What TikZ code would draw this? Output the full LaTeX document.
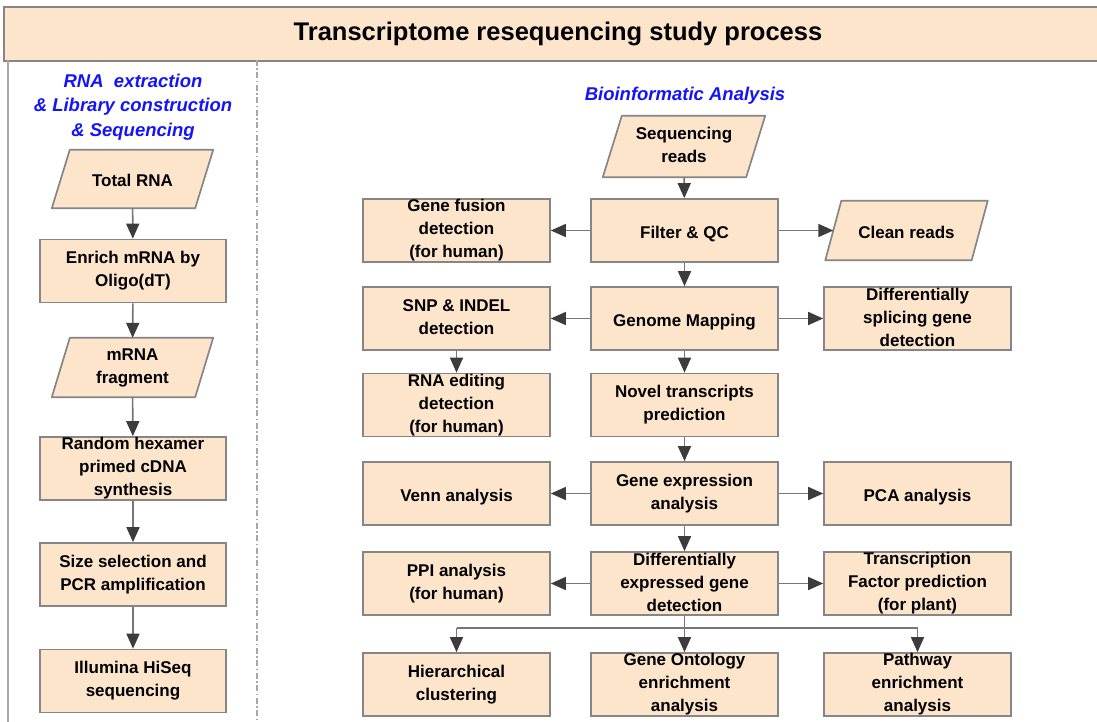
\documentclass[tikz,border=0pt]{standalone}
\usepackage{fontspec}
\setmainfont{Liberation Sans}
\usetikzlibrary{arrows.meta}
\definecolor{peach}{HTML}{FDE5CC}
\definecolor{bordergray}{HTML}{868686}
\definecolor{arrowgray}{HTML}{767676}
\definecolor{headgray}{HTML}{3C3C3C}
\definecolor{titleblue}{HTML}{1414FA}
\definecolor{sepgray}{HTML}{A8A8A8}
\begin{document}
\begin{tikzpicture}[x=1pt,y=-1pt,
  boxtxt/.style={inner sep=0pt, align=center, text=black,
     font=\fontsize{17}{23}\selectfont\bfseries,
     execute at begin node={\rule{0pt}{19pt}},
     execute at end node={\rule[-3pt]{0pt}{3pt}}},
  box/.style={boxtxt, draw=bordergray, fill=peach, line width=1.7pt,
     minimum width=187pt, minimum height=63pt},
  lbox/.style={box, minimum width=186pt},
  paratxt/.style={boxtxt, minimum height=#1},
  parafill/.style={draw=bordergray, fill=peach, line width=1.7pt, line join=round},
  arr/.style={draw=arrowgray, line width=1.6pt,
     -{Triangle[length=15pt,width=13pt,color=headgray]}},
  plainln/.style={draw=arrowgray, line width=1.6pt},
  bluetitle/.style={text=titleblue, align=center,
     font=\fontsize{18.5}{24.5}\selectfont\bfseries\itshape}
]
\useasboundingbox (0,0) rectangle (1097,722);
\fill[white] (0,0) rectangle (1097,722);

% header
\node[draw=bordergray, fill=peach, line width=1.8pt, minimum width=1100pt,
      minimum height=54pt, inner sep=0pt, anchor=north west] (header) at (3,6) {};
\node[inner sep=0pt, font=\fontsize{25.5}{30}\selectfont\bfseries] (htitle) at (558,34)
      {Transcriptome resequencing study process};
\coordinate (lsTop) at (8,60);
\coordinate (lsBot) at (8,722);
\draw[sepgray, line width=1.8pt] (lsTop) -- (lsBot);
\coordinate (dsTop) at (257,60);
\coordinate (dsBot) at (257,722);
\draw[sepgray, line width=2pt, dash pattern=on 6pt off 2.5pt on 1.5pt off 2.5pt] (dsTop) -- (dsBot);

% section titles
\node[bluetitle] (ltitle) at (133,107) {RNA\ \ extraction\\\& Library construction\\\& Sequencing};
\node[bluetitle] (rtitle) at (685,96) {Bioinformatic Analysis};

% ---------- left column ----------
\node[paratxt=58pt, minimum width=143pt] (totalrna) at (132.5,179) {};
\draw[parafill] ([xshift=9pt]totalrna.north west) -- ([xshift=9pt]totalrna.north east)
   -- ([xshift=-9pt]totalrna.south east) -- ([xshift=-9pt]totalrna.south west) -- cycle;
\node[boxtxt] at (totalrna) {Total RNA};

\node[lbox] (enrich) at (133,271) {Enrich mRNA by\\Oligo(dT)};

\node[paratxt=59pt, minimum width=143pt] (frag) at (132.5,367.5) {};
\draw[parafill] ([xshift=9pt]frag.north west) -- ([xshift=9pt]frag.north east)
   -- ([xshift=-9pt]frag.south east) -- ([xshift=-9pt]frag.south west) -- cycle;
\node[boxtxt] at (frag) {mRNA\\fragment};

\node[lbox] (hexamer) at (133,468.5) {Random hexamer\\primed cDNA\\synthesis};
\node[lbox] (sizesel) at (133,574.5) {Size selection and\\PCR amplification};
\node[lbox] (illumina) at (133,681) {Illumina HiSeq\\sequencing};

\draw[arr] (totalrna) -- (enrich);
\draw[arr] (enrich) -- (frag);
\draw[arr] (frag) -- (hexamer);
\draw[arr] (hexamer) -- (sizesel);
\draw[arr] (sizesel) -- (illumina);

% ---------- right part ----------
\node[paratxt=61pt, minimum width=143pt] (seqreads) at (684,146.5) {};
\draw[parafill] ([xshift=9.5pt]seqreads.north west) -- ([xshift=9.5pt]seqreads.north east)
   -- ([xshift=-9.5pt]seqreads.south east) -- ([xshift=-9.5pt]seqreads.south west) -- cycle;
\node[boxtxt] at (seqreads) {Sequencing\\reads};

\node[box] (filter) at (684.5,230.5) {Filter \& QC};
\node[box] (fusion) at (456.5,230.5) {Gene fusion\\detection\\(for human)};

\node[paratxt=59pt, minimum width=146pt] (clean) at (906.5,230.5) {};
\draw[parafill] ([xshift=8pt]clean.north west) -- ([xshift=8pt]clean.north east)
   -- ([xshift=-8pt]clean.south east) -- ([xshift=-8pt]clean.south west) -- cycle;
\node[boxtxt] at (clean) {Clean reads};

\node[box] (mapping) at (684.5,318.5) {Genome Mapping};
\node[box] (snp) at (456.5,318.5) {SNP \& INDEL\\detection};
\node[box] (splicing) at (917.5,318.5) {Differentially\\splicing gene\\detection};

\node[box] (editing) at (456.5,405) {RNA editing\\detection\\(for human)};
\node[box] (novel) at (684.5,405) {Novel transcripts\\prediction};

\node[box] (venn) at (456.5,493.5) {Venn analysis};
\node[box] (expr) at (684.5,493.5) {Gene expression\\analysis};
\node[box] (pca) at (917.5,493.5) {PCA analysis};

\node[box] (ppi) at (456.5,583.5) {PPI analysis\\(for human)};
\node[box] (deg) at (684.5,583.5) {Differentially\\expressed gene\\detection};
\node[box] (tf) at (917.5,583.5) {Transcription\\Factor prediction\\(for plant)};

\node[box] (hier) at (456.5,684.5) {Hierarchical\\clustering};
\node[box] (go) at (684.5,684.5) {Gene Ontology\\enrichment\\analysis};
\node[box] (pathway) at (917.5,684.5) {Pathway\\enrichment\\analysis};

% connectors
\draw[arr] (seqreads) -- (filter);
\draw[arr] (filter) -- (fusion);
\draw[arr] (filter.east) -- (clean.west);
\draw[arr] (filter) -- (mapping);
\draw[arr] (mapping) -- (snp);
\draw[arr] (mapping) -- (splicing);
\draw[arr] (snp) -- (editing);
\draw[arr] (mapping) -- (novel);
\draw[arr] (novel) -- (expr);
\draw[arr] (expr) -- (venn);
\draw[arr] (expr) -- (pca);
\draw[arr] (expr) -- (deg);
\draw[arr] (deg) -- (ppi);
\draw[arr] (deg) -- (tf);
\draw[arr] (deg) -- (go);
\coordinate (brL) at (456.5,628);
\coordinate (brR) at (917.5,628);
\draw[plainln] (brL) -- (brR);
\draw[arr] (brL) -- (hier);
\draw[arr] (brR) -- (pathway);
\end{tikzpicture}
\end{document}
